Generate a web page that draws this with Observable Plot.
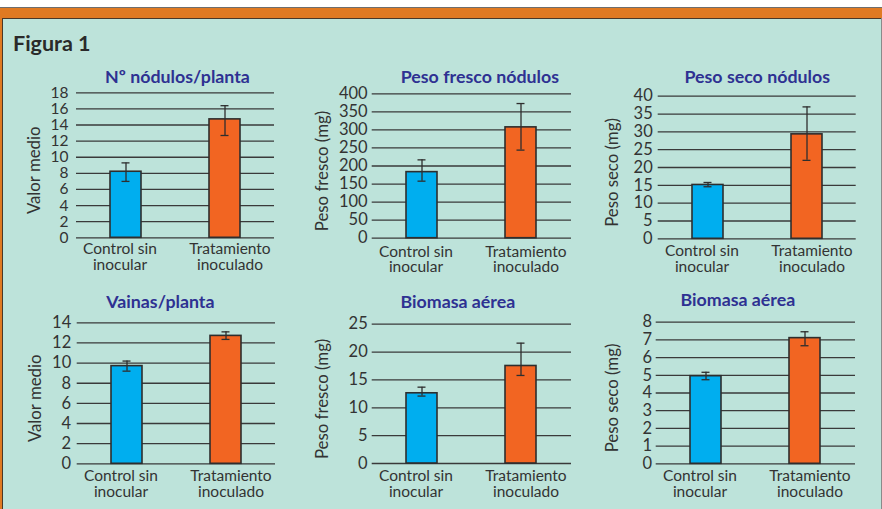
<!DOCTYPE html>
<html>
<head>
<meta charset="utf-8">
<script src="https://cdn.jsdelivr.net/npm/d3@7"></script>
<script src="https://cdn.jsdelivr.net/npm/@observablehq/plot@0.6"></script>
<style>
  html, body { margin: 0; padding: 0; background: #ffffff; }
  #card { position: relative; width: 882px; height: 509px; background: #bde3da; overflow: hidden; font-family: Lato, "Open Sans", sans-serif; }
  .abs { position: absolute; }
  #figtitle { position: absolute; left: 13px; top: 33px; font-size: 21.5px; font-weight: bold; color: #2a2a2a; font-family: Lato, sans-serif; line-height: 1; }
  .panel { position: absolute; }
  .panel svg { overflow: visible; }
</style>
</head>
<body>
<div id="card">
  <div class="abs" style="left:0;top:0;width:882px;height:7px;background:#ffffff"></div>
  <div class="abs" style="left:0;top:7px;width:882px;height:1px;background:#6e6e6e"></div>
  <div class="abs" style="left:0;top:8px;width:882px;height:10px;background:#e07a22"></div>
  <div class="abs" style="left:0;top:18px;width:882px;height:1px;background:#4a3828"></div>
  <div class="abs" style="left:0;top:18px;width:2px;height:491px;background:#e07a22"></div>
  <div class="abs" style="left:2px;top:18px;width:1px;height:491px;background:#4a3828"></div>
  <div class="abs" style="left:881px;top:18px;width:1px;height:491px;background:#8a8a8a"></div>
  <div id="figtitle">Figura 1</div>
</div>
<script>
// ---- data ----
const categories = ["Control sin inocular", "Tratamiento inoculado"];
const categoryLabels = ["Control sin\ninocular", "Tratamiento\ninoculado"];
const colors = ["#00aeef", "#f26522"];

const titles = ["Nº nódulos/planta", "Peso fresco nódulos", "Peso seco nódulos", "Vainas/planta", "Biomasa aérea", "Biomasa aérea"];
const yLabels = ["Valor medio", "Peso fresco (mg)", "Peso seco (mg)", "Valor medio", "Peso fresco (mg)", "Peso seco (mg)"];

const nodulosMean = [8.2, 14.7];
const nodulosLow = [7.0, 12.7];
const nodulosHigh = [9.3, 16.4];
const nodulosTicks = [0, 2, 4, 6, 8, 10, 12, 14, 16, 18];

const frescoNodMean = [183, 307];
const frescoNodLow = [158, 244];
const frescoNodHigh = [217, 373];
const frescoNodTicks = [0, 50, 100, 150, 200, 250, 300, 350, 400];

const secoNodMean = [15.1, 29.3];
const secoNodLow = [14.6, 22.0];
const secoNodHigh = [15.8, 37.0];
const secoNodTicks = [0, 5, 10, 15, 20, 25, 30, 35, 40];

const vainasMean = [9.7, 12.7];
const vainasLow = [9.2, 12.35];
const vainasHigh = [10.2, 13.1];
const vainasTicks = [0, 2, 4, 6, 8, 10, 12, 14];

const bioFrescoMean = [12.6, 17.5];
const bioFrescoLow = [12.1, 15.8];
const bioFrescoHigh = [13.7, 21.6];
const bioFrescoTicks = [0, 5, 10, 15, 20, 25];

const bioSecoMean = [4.95, 7.1];
const bioSecoLow = [4.75, 6.67];
const bioSecoHigh = [5.17, 7.46];
const bioSecoTicks = [0, 1, 2, 3, 4, 5, 6, 7, 8];

// ---- layout (panel boxes and frame margins) ----
const panels = [
  {mean: nodulosMean, low: nodulosLow, high: nodulosHigh, ticks: nodulosTicks, tickFont: 15.5,
   box: [0, 56, 290, 224], m: [36.3, 16, 42.7, 76], pad: 8, titleDx: 2, titleDy: -10, ylabDx: -42, catDy: 5.5},
  {mean: frescoNodMean, low: frescoNodLow, high: frescoNodHigh, ticks: frescoNodTicks, tickFont: 16.5,
   box: [290, 56, 300, 224], m: [37.3, 19, 42.3, 81.7], pad: 4.5, titleDx: 8, titleDy: -10.6, ylabDx: -50, catDy: 7.5},
  {mean: secoNodMean, low: secoNodLow, high: secoNodHigh, ticks: secoNodTicks, tickFont: 16.5,
   box: [590, 56, 292, 224], m: [39.7, 26.3, 41.7, 67.7], pad: 5.5, titleDx: 0, titleDy: -13, ylabDx: -45.5, catDy: 6.5},
  {mean: vainasMean, low: vainasLow, high: vainasHigh, ticks: vainasTicks, tickFont: 16.5,
   box: [0, 280, 290, 229], m: [42.3, 15, 45.7, 76.7], pad: 6, titleDx: -16, titleDy: -15, ylabDx: -42, catDy: 6.5},
  {mean: bioFrescoMean, low: bioFrescoLow, high: bioFrescoHigh, ticks: bioFrescoTicks, tickFont: 16.5,
   box: [290, 280, 300, 229], m: [43.7, 19, 46, 81.7], pad: 4.5, titleDx: -14, titleDy: -16.4, ylabDx: -50, catDy: 6.5},
  {mean: bioSecoMean, low: bioSecoLow, high: bioSecoHigh, ticks: bioSecoTicks, tickFont: 16.5,
   box: [590, 280, 292, 229], m: [41.7, 27, 45.7, 65.7], pad: 4, titleDx: -18, titleDy: -16.4, ylabDx: -44, catDy: 6.5}
];

const card = document.getElementById("card");

panels.forEach((p, i) => {
  const rows = categories.map((c, j) => ({cat: c, label: categoryLabels[j], mean: p.mean[j], low: p.low[j], high: p.high[j], color: colors[j]}));
  const ymax = p.ticks[p.ticks.length - 1];
  const [bx, by, bw, bh] = p.box;
  const [mt, mr, mb, ml] = p.m;
  const chart = Plot.plot({
    width: bw,
    height: bh,
    marginTop: mt, marginRight: mr, marginBottom: mb, marginLeft: ml,
    style: {background: "transparent", fontFamily: "Lato, 'Open Sans', sans-serif", color: "#333333", overflow: "visible"},
    x: {domain: categories, paddingInner: 0.687, paddingOuter: 0.343, axis: null},
    y: {domain: [0, ymax], axis: null},
    marks: [
      Plot.ruleY(p.ticks, {stroke: "#3a3a3a", strokeWidth: 1.3}),
      Plot.axisY(p.ticks, {tickSize: 0, tickPadding: p.pad, fontSize: p.tickFont, label: null, tickFormat: d => String(d), color: "#333"}),
      Plot.barY(rows, {x: "cat", y: "mean", fill: "color", stroke: "#2e2e2e", strokeWidth: 1.6}),
      Plot.ruleX(rows, {x: "cat", y1: "low", y2: "high", stroke: "#2e2e2e", strokeWidth: 1.3}),
      Plot.tickY(rows, {x: "cat", y: "high", stroke: "#2e2e2e", strokeWidth: 1.3, insetLeft: 11.5, insetRight: 11.5}),
      Plot.tickY(rows, {x: "cat", y: "low", stroke: "#2e2e2e", strokeWidth: 1.3, insetLeft: 11.5, insetRight: 11.5}),
      Plot.text(rows.slice(0, 1), {x: "cat", text: "label", frameAnchor: "bottom", lineAnchor: "top", dy: p.catDy, dx: -6, fontSize: 15.5, lineHeight: 1, fill: "#333"}),
      Plot.text(rows.slice(1, 2), {x: "cat", text: "label", frameAnchor: "bottom", lineAnchor: "top", dy: p.catDy, dx: 5, fontSize: 15.5, lineHeight: 1, fill: "#333"}),
      Plot.text([titles[i]], {frameAnchor: "top", lineAnchor: "bottom", dy: p.titleDy, dx: p.titleDx, fontSize: 17.8, fontWeight: "bold", fill: "#2e3192"}),
      Plot.text([yLabels[i]], {frameAnchor: "left", rotate: -90, lineAnchor: "middle", textAnchor: "middle", dx: p.ylabDx, dy: 5, fontSize: 16.8, fill: "#333"})
    ]
  });
  const div = document.createElement("div");
  div.className = "panel";
  div.style.left = bx + "px";
  div.style.top = by + "px";
  div.appendChild(chart);
  card.appendChild(div);
});
</script>
</body>
</html>
